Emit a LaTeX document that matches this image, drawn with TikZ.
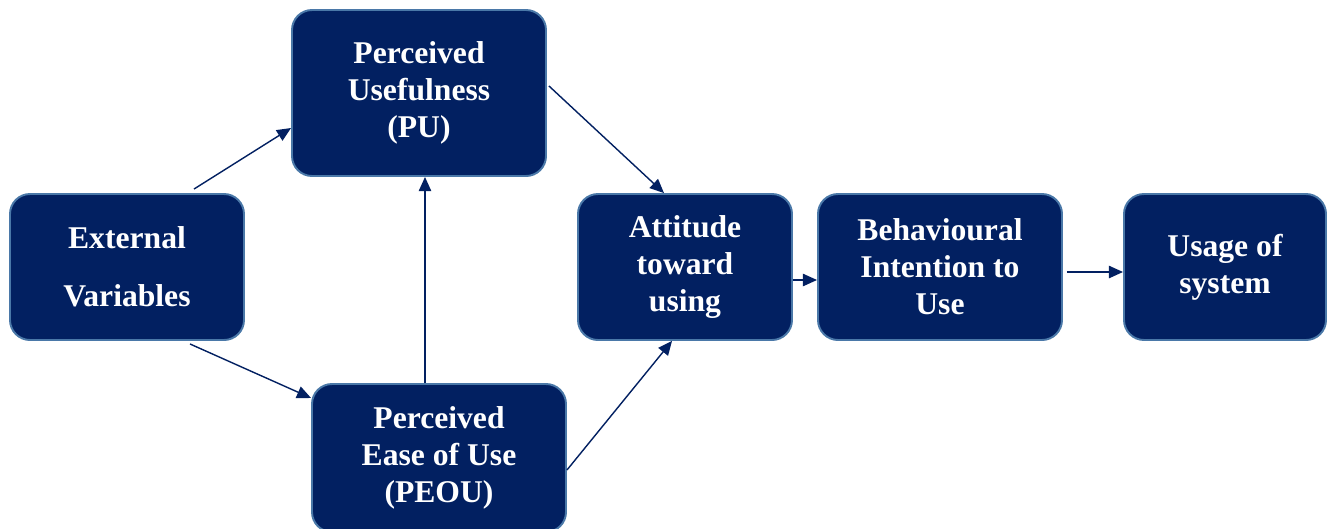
\documentclass[tikz,border=0pt]{standalone}
\usepackage{fontspec}
\setmainfont{Liberation Serif}
\usetikzlibrary{arrows.meta}
\definecolor{navy}{HTML}{022061}
\definecolor{edge}{HTML}{4A78A8}
\begin{document}
\begin{tikzpicture}[
        box/.style={draw=edge, line width=1.1pt, fill=navy, rounded corners=0.4cm, text=white, align=center,
            font=\bfseries\fontsize{18}{21}\selectfont, inner sep=0pt},
        arr/.style={draw=navy, line width=0.8pt, -{Triangle[length=8pt,width=7pt]}}
    ]
            \useasboundingbox (0,0) rectangle (26.72,-10.56);
            \node[box, minimum width=4.68cm, minimum height=2.92cm] (ev) at (2.54,-5.34) {External\\[0.42cm]Variables};
            \node[box, minimum width=5.08cm, minimum height=3.32cm] (pu) at (8.38,-1.86) {Perceived\\Usefulness\\(PU)};
            \node[box, minimum width=5.08cm, minimum height=2.96cm] (peou) at (8.78,-9.16) {Perceived\\Ease of Use\\(PEOU)};
            \node[box, minimum width=4.28cm, minimum height=2.92cm] (att) at (13.70,-5.34) {Attitude\\toward\\using};
            \node[box, minimum width=4.88cm, minimum height=2.92cm] (bi) at (18.80,-5.34) {Behavioural\\Intention to\\Use};
            \node[box, minimum width=4.04cm, minimum height=2.92cm] (use) at (24.50,-5.34) {Usage of\\system};
            \draw[arr] ([xshift=1.34cm,yshift=0.08cm]ev.north) -- ([yshift=-0.7cm]pu.west);
            \draw[arr] ([xshift=1.26cm,yshift=-0.06cm]ev.south) -- ([yshift=1.2cm]peou.west);
            \draw[arr] ([xshift=-0.28cm]peou.north) -- ([xshift=-0.28cm]peou.north |- pu.south);
            \draw[arr] ([xshift=0.04cm,yshift=0.14cm]pu.east) -- ([xshift=-0.42cm]att.north);
            \draw[arr] ([yshift=-0.24cm]peou.east) -- ([xshift=-0.26cm]att.south);
            \draw[arr] ([yshift=-0.26cm]att.east) -- ([yshift=-0.26cm]bi.west);
            \draw[arr] ([xshift=0.08cm,yshift=-0.1cm]bi.east) -- ([yshift=-0.1cm]use.west);
        \end{tikzpicture}
\end{document}
